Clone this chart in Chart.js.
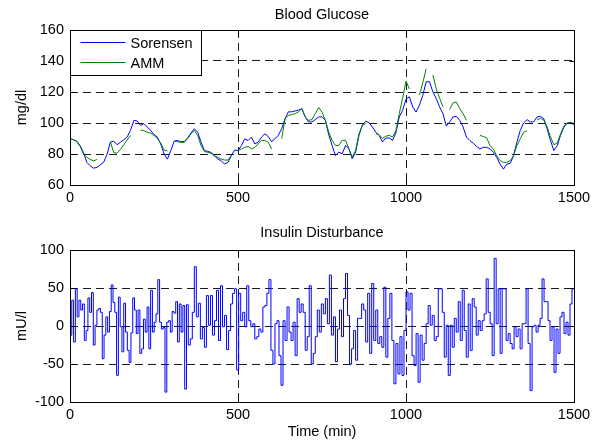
<!DOCTYPE html>
<html>
<head>
<meta charset="utf-8">
<script src="https://cdn.jsdelivr.net/npm/chart.js@4/dist/chart.umd.min.js"></script>
<style>
  body { margin: 0; background: #fff; width: 596px; height: 442px; overflow: hidden; position: relative; }
  #glucose { position: absolute; left: 0; top: 0; }
  #insulin { position: absolute; left: 0; top: 218px; }
</style>
</head>
<body>
<canvas id="glucose" width="596" height="216"></canvas>
<canvas id="insulin" width="596" height="224"></canvas>
<script>
// sample spacing of the glucose traces (min)
const glucoseStep = 10;

// Sorensen model, mg/dl, one value every 10 min from 0 to 1500
const sorensen = [
  89.8, 89.3, 88.3, 85.4, 81, 74.6, 72.4, 70.9, 71.3, 73,
  74.6, 79.6, 87.6, 88.3, 86, 87.6, 89.1, 90.9, 95.2, 101.7,
  101.3, 98.5, 99.6, 97.4, 95.2, 92.6, 90.9, 86.5, 80, 76.7,
  82.2, 88.3, 88.7, 88, 88, 90.4, 93.5, 96.3, 94.1, 87.6,
  82.2, 81.7, 81, 78.9, 76.7, 75.7, 73.5, 74.6, 78.9, 82.6,
  82.2, 85.4, 89.8, 88.7, 90.9, 86.5, 87.6, 90.9, 93, 91.3,
  88, 89.8, 92, 96.3, 102.8, 107.2, 107.2, 107.8, 108.3, 109.3,
  103.9, 100.7, 100.7, 102.2, 103.9, 104, 101.7, 92.4, 85.5, 79,
  81.2, 80.1, 85.5, 83.4, 76.9, 81.2, 92, 98.5, 101.1, 100.2,
  97.4, 94.2, 92, 87.7, 90.3, 90.3, 88.8, 93.7, 103.9, 108.2,
  115.4, 116.9, 110.4, 107.1, 111.5, 117.9, 126.6, 126.6, 120.1, 115.8,
  110.4, 106, 98, 100.7, 103.9, 104.3, 101.7, 97.4, 90.9, 88.7,
  87, 84.8, 83.3, 84.3, 84.3, 83.3, 81.1, 77.8, 73.5, 70.2,
  73.5, 73.9, 78.9, 87.6, 95.2, 100, 102.2, 100.7, 100.7, 103.9,
  104.3, 102.8, 96.3, 88.7, 82.2, 85.4, 92, 97.4, 100, 100,
  99.1
];

// AMM prediction, same sampling; null where the trace breaks
const amm = [
  89.8, 89.3, 88, 85, 80, 78, 76.5, 75.5, 76.5, null,
  null, null, 88, 81, 80.5, 83, 86, 89, 92, null,
  null, 95.5, 95, 94, 93.5, 92, 90, 87, 82.5, 82,
  null, 88.3, 88, 87.5, 87.5, 90, 93, 95.2, 92, 85.4,
  81.7, 81, 80.4, 79, 77.8, 76.7, 76.1, 76.1, 79, null,
  82.2, 83.3, 84.3, 84.8, 83.3, 84.3, 86.5, 88.7, 88.7, 87.6,
  83.3, null, null, 90, 102.8, 105, 105.4, 106, 107.2, 109.3,
  103.9, 101.7, 102.2, 106, 110, 107, 101.7, 94.2, 88.8, 85.5,
  85.5, 88.8, 88.8, 83.4, 78, 82.3, 93, 98.5, 99.6, null,
  null, 93, 92.5, 90, 91.5, 92, 91, 95, 106, 116,
  127, 122, null, null, 118, 126, 135, null, 131, 122,
  116, 110.5, null, 108.7, 113, 113.5, 109.3, 106, 101.7, null,
  null, null, 92, 91.3, 90.5, 85.4, 83.3, 78.9, 75.7, 74.6,
  74.6, 75.7, 78.9, 85.4, 89.8, 94, 95, null, null, 102,
  103, 102, 97.5, 91, 86, 87, 93, 98, 100, 100.5,
  99.6
];

// insulin disturbance, mU/l, piecewise constant; read in four stretches
const insulinBreaks = [0, 352, 730, 1102, 1500];
const insulinA = [
  -12, 34, -21, 49, 12, 34, 21, 29, -19, -6, 37, 18, 44, -25, 1, 21, 23, 18, -43, -12,
  12, -8, 19, 54, 31, 18, -65, 38, -1, -34, 30, -8, -32, -48, -9, 37, 21, -10, 21, -36,
  -30, 9, -8, 25, -30, 47, -8, 5, 16, 61, 5, -4, -2, -87, 5, 7, -8, 19, 17, 32,
  -21, 29, -8, 27, -83, 28
];
const insulinB = [
  -25, -17, 18, 78, 12, 30, -17, -2, -28, 40, 1, 40, -12, 7, 47, -19, 53, -1, 14, -31,
  -6, 29, 43, 49, -58, 43, 7, 18, -1, 53, 7, -1, 3, -17, -14, -4, -8, 25, 27, 43,
  61, -32, -50, 3, 7, -39, -78, 7, -19, 25, -8, -19, 5, -39, 36, 18, 29, 18, -32, -14,
  53, -50, -36
];
const insulinC = [
  -14, 21, -8, 29, 16, 36, 3, 67, -12, 12, -47, -4, 21, -14, 36, 69, 14, -50, -30, -6,
  -45, 10, 10, 29, 21, -21, 43, -36, 56, -19, 21, -23, -14, -28, 51, -41, 10, 43, -19, -76,
  -23, -63, -14, -65, -6, 45, 21, 43, -39, -52, -10, -74, -12, -45, -23, 3, 27, 1, 14, -19,
  -14, 49
];
const insulinD = [
  49, 18, -41, 1, -65, 1, -28, 10, -8, 32, -19, 47, -6, -41, 29, -32, 36, 25, -12, 7,
  -6, 7, 16, 62, 18, 3, -39, 89, 3, 49, -36, 49, 49, -19, -10, -23, -30, -1, -14, -4,
  -30, 3, 3, 49, -23, -85, -1, 1, -8, 1, 10, 62, 32, 32, 7, -19, -1, -61, -4, -36,
  12, 18, -10, 5, -12, 29, 49
];

const xTicks = [0, 500, 1000, 1500];
const glucoseTicks = [60, 80, 100, 120, 140, 160];
const insulinTicks = [-100, -50, 0, 50, 100];

const BLUE = '#0000ff';
const GREEN = '#008000';
const FONT = '"Liberation Sans", Arial, Helvetica, sans-serif';
const FS = 14.5;
Chart.defaults.font.family = FONT;
Chart.defaults.font.size = FS;
Chart.defaults.color = '#000';

// stairs: each value holds until the next step, last one runs to 1500
const insulinPts = [];
[insulinA, insulinB, insulinC, insulinD].forEach((vals, k) => {
  const t0 = insulinBreaks[k];
  const dt = (insulinBreaks[k + 1] - t0) / vals.length;
  vals.forEach((v, i) => insulinPts.push({ x: t0 + i * dt, y: v }));
});
insulinPts.push({ x: 1500, y: insulinD[insulinD.length - 1] });

const asPoints = arr => arr.map((v, i) => ({ x: i * glucoseStep, y: v }));

// matlab-like box with inward tick marks
const boxPlugin = {
  id: 'box',
  afterDraw(chart) {
    const { ctx, chartArea: a, scales } = chart;
    const l = Math.round(a.left) + 0.5, t = Math.round(a.top) + 0.5;
    const r = Math.round(a.right) + 0.5, b = Math.round(a.bottom) + 0.5;
    ctx.save();
    ctx.strokeStyle = '#000';
    ctx.lineWidth = 1;
    ctx.setLineDash([]);
    ctx.beginPath();
    scales.x.ticks.forEach(tk => {
      const px = Math.round(scales.x.getPixelForValue(tk.value)) + 0.5;
      ctx.moveTo(px, b); ctx.lineTo(px, b - 5);
      ctx.moveTo(px, t); ctx.lineTo(px, t + 5);
    });
    scales.y.ticks.forEach(tk => {
      const py = Math.round(scales.y.getPixelForValue(tk.value)) + 0.5;
      ctx.moveTo(l, py); ctx.lineTo(l + 5, py);
      ctx.moveTo(r, py); ctx.lineTo(r - 5, py);
    });
    ctx.stroke();
    ctx.strokeRect(l, t, r - l, b - t);
    ctx.restore();
  }
};

// legend box in the upper-left corner of the axes
const legendItems = [
  { text: 'Sorensen', color: BLUE },
  { text: 'AMM', color: GREEN }
];
const legendBox = {
  id: 'legendBox',
  afterDraw(chart) {
    const { ctx, chartArea: a } = chart;
    const x0 = Math.round(a.left) + 0.5, y0 = Math.round(a.top) + 0.5;
    ctx.save();
    ctx.setLineDash([]);
    ctx.fillStyle = '#fff';
    ctx.fillRect(x0, y0, 131, 45);
    ctx.lineWidth = 1;
    ctx.strokeStyle = '#000';
    ctx.strokeRect(x0, y0, 131, 45);
    ctx.font = FS + 'px ' + FONT;
    ctx.textBaseline = 'middle';
    legendItems.forEach((it, i) => {
      const y = y0 + 12 + i * 20;
      ctx.beginPath();
      ctx.strokeStyle = it.color;
      ctx.moveTo(x0 + 10, y);
      ctx.lineTo(x0 + 55, y);
      ctx.stroke();
      ctx.fillStyle = '#000';
      ctx.fillText(it.text, x0 + 60, y + 1);
    });
    ctx.restore();
  }
};

function scalesFor(yMin, yMax, yTicks, yTitle, xTitle, xHeight) {
  return {
    x: {
      type: 'linear', min: 0, max: 1500,
      afterBuildTicks: s => { s.ticks = xTicks.map(v => ({ value: v })); },
      ticks: { padding: 4.5, callback: v => String(v) },
      grid: { color: '#1a1a1a', drawTicks: false, lineWidth: 1 },
      border: { display: false, dash: [8, 5] },
      title: xTitle ? { display: true, text: xTitle, padding: { top: 0, bottom: 1.3 } } : { display: false },
      afterFit: s => { s.height = xHeight; }
    },
    y: {
      min: yMin, max: yMax,
      afterBuildTicks: s => { s.ticks = yTicks.map(v => ({ value: v })); },
      ticks: { padding: 6, callback: v => String(v) },
      grid: { color: '#1a1a1a', drawTicks: false, lineWidth: 1 },
      border: { display: false, dash: [8, 5] },
      title: { display: true, text: yTitle, padding: { top: 13, bottom: 0 } },
      afterFit: s => { s.width = 70; }
    }
  };
}

new Chart(document.getElementById('glucose'), {
  type: 'line',
  data: {
    datasets: [
      { label: 'Sorensen', data: asPoints(sorensen), borderColor: BLUE, borderWidth: 1, pointRadius: 0, order: 1 },
      { label: 'AMM', data: asPoints(amm), borderColor: GREEN, borderWidth: 1, pointRadius: 0, order: 0 }
    ]
  },
  options: {
    responsive: false, animation: false, devicePixelRatio: 1,
    layout: { padding: { left: 0, right: 22, top: 0, bottom: 0 } },
    plugins: {
      legend: { display: false }, tooltip: { enabled: false },
      title: { display: true, fullSize: false, text: 'Blood Glucose', font: { weight: 'normal' }, padding: { top: 5.8, bottom: 6.8 } }
    },
    scales: scalesFor(60, 160, glucoseTicks, 'mg/dl', null, 31)
  },
  plugins: [boxPlugin, legendBox]
});

new Chart(document.getElementById('insulin'), {
  type: 'line',
  data: {
    datasets: [
      { label: 'Insulin', data: insulinPts, borderColor: BLUE, borderWidth: 1, pointRadius: 0, stepped: true }
    ]
  },
  options: {
    responsive: false, animation: false, devicePixelRatio: 1,
    layout: { padding: { left: 0, right: 22, top: 0, bottom: 0 } },
    plugins: {
      legend: { display: false }, tooltip: { enabled: false },
      title: { display: true, fullSize: false, text: 'Insulin Disturbance', font: { weight: 'normal' }, padding: { top: 6.6, bottom: 8 } }
    },
    scales: scalesFor(-100, 100, insulinTicks, 'mU/l', 'Time (min)', 40)
  },
  plugins: [boxPlugin]
});
</script>
</body>
</html>
